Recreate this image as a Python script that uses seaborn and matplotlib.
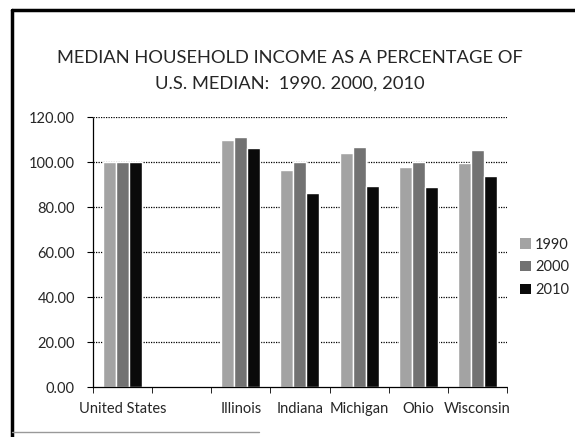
import pandas as pd
import matplotlib.pyplot as plt
import seaborn as sns
from matplotlib.lines import Line2D
from matplotlib.patches import Patch

# data
states = ["United States", "Illinois", "Indiana", "Michigan", "Ohio", "Wisconsin"]
years = ["1990", "2000", "2010"]
pct_1990 = [100.0, 109.9, 96.6, 104.0, 97.6, 99.6]
pct_2000 = [100.0, 111.1, 100.0, 106.7, 99.8, 105.5]
pct_2010 = [100.0, 106.4, 86.2, 89.5, 88.9, 93.9]

# empty slot between the U.S. and the states
order = ["United States", " ", "Illinois", "Indiana", "Michigan", "Ohio", "Wisconsin"]
colors = ["#a3a3a3", "#727272", "#0a0a0a"]

df = pd.DataFrame({
    "State": states * 3,
    "Year": [y for y in years for _ in states],
    "Pct": pct_1990 + pct_2000 + pct_2010,
})

sns.set_style("white")
plt.rcParams["font.family"] = ["Lato", "DejaVu Sans"]

fig = plt.figure(figsize=(5.75, 4.37), dpi=100)
ax = fig.add_axes([0.1617, 0.1144, 0.72, 0.6178])

sns.barplot(data=df, x="State", y="Pct", hue="Year", order=order,
            hue_order=years, palette=colors, width=0.66, gap=0,
            saturation=1, ax=ax, legend=False)

ax.set_ylim(0, 120)
ax.set_xlim(-0.5, 6.5)
ax.set_yticks(range(0, 121, 20))
ax.set_yticklabels([f"{v:.2f}" for v in range(0, 121, 20)], fontsize=10.5)
ax.set_xticks(range(len(order)))
ax.set_xticklabels(order, fontsize=10.5)
ax.set_xticks([i - 0.5 for i in range(len(order) + 1)], minor=True)
ax.tick_params(axis="x", which="major", length=0, pad=11)
ax.tick_params(axis="x", which="minor", length=4, color="black", direction="out", bottom=True)
ax.tick_params(axis="y", length=4, color="black", direction="out", left=True, pad=9)
ax.set_xlabel("")
ax.set_ylabel("")

for v in range(20, 121, 20):
    ax.axhline(v, color="black", linestyle=(0, (1, 1)), linewidth=0.9, zorder=0)
for side in ["top", "right"]:
    ax.spines[side].set_visible(False)
for side in ["left", "bottom"]:
    ax.spines[side].set_visible(True)
    ax.spines[side].set_color("black")
    ax.spines[side].set_linestyle((0, (1, 1)))
    ax.spines[side].set_linewidth(0.9)

handles = [Patch(facecolor=c, edgecolor="none") for c in colors]
fig.legend(handles, years, loc="center left", bbox_to_anchor=(0.905, 0.388),
           frameon=False, fontsize=10.5, handlelength=0.7, handleheight=0.7,
           handletextpad=0.3, labelspacing=0.6, borderpad=0, borderaxespad=0)

fig.text(0.504, 0.838, "MEDIAN HOUSEHOLD INCOME AS A PERCENTAGE OF\nU.S. MEDIAN:  1990. 2000, 2010",
         ha="center", va="center", fontsize=13.2, linespacing=1.75)

# slide frame
fig.add_artist(Line2D([0.021, 1.0], [0.977, 0.977], color="black", linewidth=2.5, transform=fig.transFigure))
fig.add_artist(Line2D([0.021, 0.021], [0.0, 0.977], color="black", linewidth=2.5, transform=fig.transFigure))
fig.add_artist(Line2D([0.021, 0.45], [0.012, 0.012], color="#999999", linewidth=1, transform=fig.transFigure))

fig.savefig("out.png", dpi=100)
